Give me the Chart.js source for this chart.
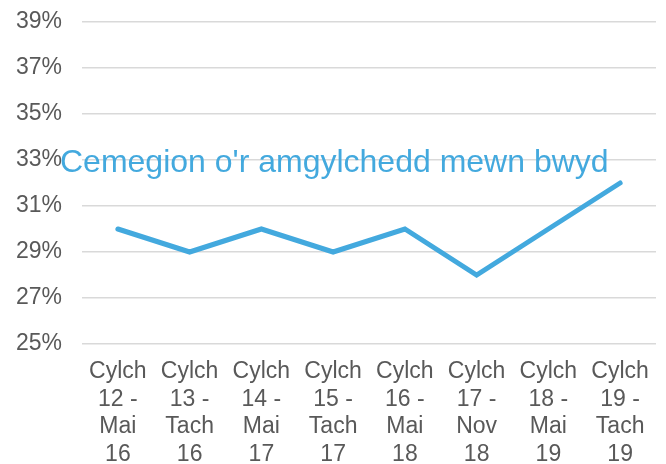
<!DOCTYPE html>
<html>
<head>
<meta charset="utf-8">
<script src="https://cdn.jsdelivr.net/npm/chart.js@4"></script>
<style>
  html, body { margin: 0; padding: 0; background: #fff; }
  #wrap { width: 666px; height: 464px; }
</style>
</head>
<body>
<div id="wrap"><canvas id="chart" width="666" height="464"></canvas></div>
<script>
// Chart data
const categories = [
    ['Cylch', '12 -', 'Mai', '16'],
    ['Cylch', '13 -', 'Tach', '16'],
    ['Cylch', '14 -', 'Mai', '17'],
    ['Cylch', '15 -', 'Tach', '17'],
    ['Cylch', '16 -', 'Mai', '18'],
    ['Cylch', '17 -', 'Nov', '18'],
    ['Cylch', '18 -', 'Mai', '19'],
    ['Cylch', '19 -', 'Tach', '19']
];
const seriesName = "Cemegion o'r amgylchedd mewn bwyd";
const seriesValues = [30, 29, 30, 29, 30, 28, 30, 32];
const yTicks = [25, 27, 29, 31, 33, 35, 37, 39];

const BLUE = '#43a9de';
const GREY_TEXT = '#595959';

// Draws the series name inside the plot, as in the original
const seriesLabelPlugin = {
    id: 'seriesLabel',
    afterDatasetsDraw(chart) {
        const ctx = chart.ctx;
        ctx.save();
        ctx.font = '32px "Liberation Sans", Arial, sans-serif';
        ctx.fillStyle = BLUE;
        ctx.textBaseline = 'alphabetic';
        ctx.textAlign = 'left';
        ctx.fillText(seriesName, 60, 172);
        ctx.restore();
    }
};

new Chart(document.getElementById('chart').getContext('2d'), {
    type: 'line',
    data: {
        labels: categories,
        datasets: [{
            label: seriesName,
            data: seriesValues,
            borderColor: BLUE,
            backgroundColor: BLUE,
            borderWidth: 5,
            pointRadius: 0,
            tension: 0,
            fill: false,
            borderCapStyle: 'round',
            borderJoinStyle: 'miter'
        }]
    },
    options: {
        responsive: false,
        animation: false,
        layout: {
            padding: { top: 22, right: 10, left: 0, bottom: 0 }
        },
        plugins: {
            legend: { display: false },
            title: { display: false },
            tooltip: { enabled: false }
        },
        scales: {
            x: {
                offset: true,
                grid: { display: false, drawTicks: false },
                border: { display: false },
                ticks: {
                    color: GREY_TEXT,
                    padding: 14,
                    maxRotation: 0,
                    autoSkip: false,
                    font: { family: '"Liberation Sans Narrow", "Liberation Sans", Arial, sans-serif', size: 23, lineHeight: 1.2 }
                },
                afterFit(scale) { scale.height = 120; }
            },
            y: {
                min: 25,
                max: 39,
                grid: {
                    color: '#d9d9d9',
                    lineWidth: 1.5,
                    drawTicks: true,
                    tickLength: 20,
                    tickColor: 'rgba(0,0,0,0)'
                },
                border: { display: false },
                afterBuildTicks(scale) {
                    scale.ticks = yTicks.map(v => ({ value: v }));
                },
                ticks: {
                    color: GREY_TEXT,
                    padding: 0,
                    font: { family: '"Liberation Sans", Arial, sans-serif', size: 23 },
                    callback: v => v + '%'
                },
                afterFit(scale) { scale.width = 82; }
            }
        }
    },
    plugins: [seriesLabelPlugin]
});
</script>
</body>
</html>
